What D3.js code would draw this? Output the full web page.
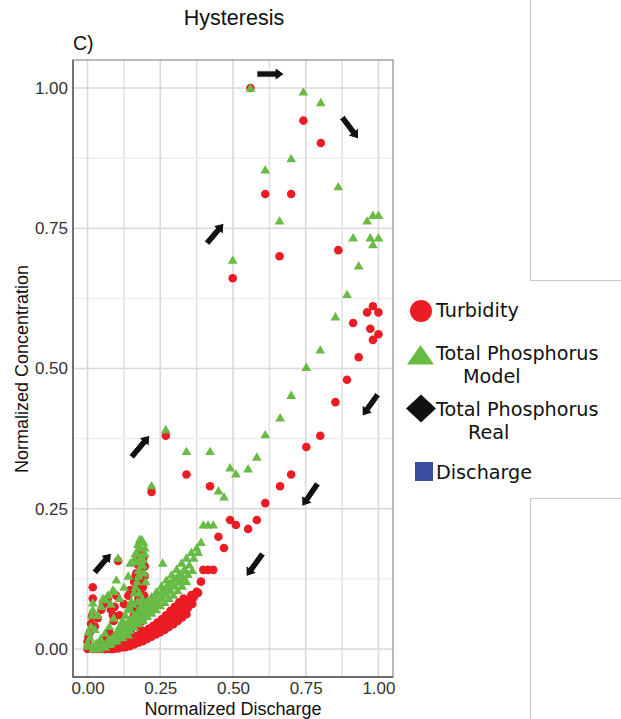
<!DOCTYPE html>
<html><head><meta charset="utf-8">
<script src="https://cdn.jsdelivr.net/npm/d3@7"></script>
<style>body{margin:0;background:#fff}svg{display:block}</style>
</head><body>
<script>
// ---------- data (normalized values) ----------
// Event A : large event
const dischargeA = [0.499,0.560,0.611,0.660,0.700,0.742,0.802,0.862,0.961,0.981,1.000,0.913,0.972,1.000,0.981,0.932,0.892,0.852,0.800,0.752,0.700,0.662,0.611,0.582,0.552,0.510,0.490,0.469,0.450];
const turbidityA = [0.661,1.000,0.811,0.700,0.811,0.942,0.902,0.711,0.600,0.611,0.600,0.581,0.571,0.561,0.551,0.520,0.480,0.440,0.380,0.360,0.311,0.290,0.260,0.230,0.214,0.221,0.230,0.180,0.200];
const tpModelA   = [0.693,1.000,0.854,0.763,0.874,0.993,0.974,0.824,0.763,0.773,0.773,0.733,0.733,0.733,0.721,0.683,0.632,0.592,0.533,0.502,0.452,0.412,0.382,0.342,0.321,0.312,0.323,0.271,0.282];
// Event B : medium event
const dischargeB = [0.220,0.269,0.340,0.421,0.398,0.414,0.432,0.390,0.375,0.357,0.340,0.323,0.306,0.289,0.271,0.258,0.254,0.237,0.220,0.205,0.190,0.175,0.160,0.145,0.130,0.115,0.100,0.085];
const turbidityB = [0.280,0.380,0.311,0.290,0.141,0.141,0.141,0.120,0.102,0.096,0.087,0.079,0.073,0.064,0.055,0.050,0.046,0.040,0.035,0.030,0.026,0.022,0.018,0.014,0.010,0.006,0.003,0.000];
const tpModelB   = [0.291,0.391,0.352,0.352,0.221,0.221,0.221,0.190,0.180,0.172,0.162,0.153,0.142,0.132,0.123,0.153,0.112,0.102,0.093,0.085,0.076,0.068,0.060,0.052,0.044,0.036,0.028,0.020];
// Event C : small event
const dischargeC = [0.110,0.125,0.140,0.147,0.160,0.168,0.173,0.179,0.186,0.192,0.197,0.197,0.192,0.186,0.180,0.175,0.170,0.165,0.160,0.150,0.140,0.130,0.120,0.110,0.100];
const turbidityC = [0.060,0.080,0.095,0.105,0.120,0.135,0.150,0.165,0.174,0.162,0.147,0.130,0.118,0.110,0.100,0.090,0.080,0.070,0.060,0.045,0.035,0.025,0.018,0.012,0.008];
const tpModelC   = [0.090,0.110,0.130,0.153,0.160,0.172,0.186,0.195,0.195,0.190,0.180,0.170,0.160,0.150,0.140,0.130,0.120,0.110,0.100,0.085,0.072,0.060,0.050,0.040,0.030];
// Event D : first flush near zero discharge
const dischargeD = [0.000,0.000,0.003,0.008,0.012,0.015,0.018,0.018,0.025,0.035,0.047,0.053,0.062,0.070,0.080,0.087,0.093,0.099,0.105,0.090,0.075,0.060,0.045,0.030,0.020];
const turbidityD = [0.000,0.013,0.022,0.030,0.045,0.058,0.090,0.110,0.040,0.055,0.070,0.078,0.082,0.090,0.070,0.060,0.075,0.095,0.157,0.050,0.030,0.020,0.010,0.005,0.002];
const tpModelD   = [0.005,0.010,0.030,0.020,0.040,0.060,0.070,0.082,0.035,0.060,0.076,0.090,0.088,0.096,0.080,0.105,0.102,0.123,0.162,0.055,0.040,0.028,0.018,0.010,0.006];
// Events E, F, H, I : recession limbs
const dischargeE = [0.360,0.345,0.330,0.315,0.300,0.285,0.270,0.255,0.240,0.225,0.210,0.195,0.180,0.165,0.150,0.135,0.120,0.105,0.090,0.075,0.060];
const turbidityE = [0.080,0.073,0.067,0.061,0.055,0.049,0.044,0.038,0.033,0.028,0.024,0.020,0.016,0.012,0.009,0.006,0.003,0.001,0.000,0.000,0.000];
const tpModelE   = [0.140,0.133,0.126,0.119,0.112,0.104,0.097,0.090,0.083,0.076,0.069,0.062,0.055,0.048,0.041,0.034,0.027,0.020,0.014,0.008,0.003];
const dischargeF = [0.330,0.315,0.300,0.285,0.270,0.255,0.240,0.225,0.210,0.195,0.180,0.165,0.150,0.135,0.120,0.105,0.090];
const turbidityF = [0.090,0.083,0.075,0.068,0.060,0.053,0.047,0.041,0.036,0.030,0.025,0.021,0.017,0.013,0.010,0.006,0.003];
const tpModelF   = [0.140,0.132,0.125,0.117,0.110,0.102,0.095,0.087,0.080,0.072,0.065,0.057,0.050,0.042,0.035,0.027,0.020];
const dischargeH = [0.380,0.365,0.350,0.335,0.320,0.305,0.290,0.275,0.260,0.245,0.230,0.215,0.200,0.185,0.170,0.155,0.140,0.125,0.110];
const turbidityH = [0.100,0.092,0.085,0.078,0.071,0.066,0.060,0.054,0.049,0.044,0.040,0.036,0.031,0.027,0.023,0.019,0.015,0.011,0.008];
const tpModelH   = [0.172,0.162,0.150,0.141,0.133,0.126,0.118,0.111,0.104,0.097,0.090,0.083,0.076,0.069,0.062,0.055,0.048,0.041,0.034];
const dischargeI = [0.340,0.325,0.310,0.295,0.280,0.265,0.250,0.235,0.220,0.205,0.190,0.175,0.160,0.145,0.130];
const turbidityI = [0.062,0.056,0.050,0.044,0.039,0.034,0.030,0.026,0.022,0.018,0.014,0.011,0.008,0.005,0.003];
const tpModelI   = [0.120,0.112,0.104,0.096,0.090,0.083,0.077,0.070,0.064,0.058,0.051,0.045,0.039,0.033,0.027];
// Event J : second small peak
const dischargeJ = [0.165,0.170,0.175,0.180,0.185,0.190,0.195,0.200,0.178,0.188,0.172,0.182,0.155,0.148];
const turbidityJ = [0.130,0.115,0.100,0.140,0.125,0.110,0.095,0.080,0.060,0.050,0.045,0.035,0.040,0.030];
const tpModelJ   = [0.170,0.155,0.140,0.180,0.165,0.150,0.135,0.120,0.100,0.090,0.085,0.075,0.080,0.070];
// Event G : base flow
const dischargeG = [0.020,0.030,0.040,0.050,0.060,0.070,0.080,0.090,0.100,0.110,0.120,0.130,0.140];
const turbidityG = [0.000,0.000,0.000,0.000,0.000,0.005,0.000,0.005,0.010,0.010,0.015,0.020,0.020];
const tpModelG   = [0.000,0.005,0.000,0.010,0.005,0.015,0.010,0.020,0.015,0.025,0.020,0.030,0.025];

const tickValues = [0, 0.25, 0.5, 0.75, 1];
const tickLabels = ["0.00", "0.25", "0.50", "0.75", "1.00"];
const legendLabels = [["Turbidity"], ["Total Phosphorus", "Model"], ["Total Phosphorus", "Real"], ["Discharge"]];
// hysteresis direction arrows [x1, y1, x2, y2] in data units
const arrows = [
  [0.024,0.136,0.082,0.171],
  [0.151,0.342,0.214,0.381],
  [0.410,0.723,0.469,0.759],
  [0.582,1.025,0.676,1.025],
  [0.875,0.948,0.932,0.909],
  [0.998,0.454,0.944,0.415],
  [0.791,0.295,0.737,0.254],
  [0.602,0.170,0.545,0.129]
];

// ---------- build ----------
const events = [
  [dischargeA, turbidityA, tpModelA],[dischargeB, turbidityB, tpModelB],[dischargeC, turbidityC, tpModelC],
  [dischargeD, turbidityD, tpModelD],[dischargeE, turbidityE, tpModelE],[dischargeF, turbidityF, tpModelF],
  [dischargeH, turbidityH, tpModelH],[dischargeI, turbidityI, tpModelI],[dischargeJ, turbidityJ, tpModelJ],
  [dischargeG, turbidityG, tpModelG]
];
const pts = [];
events.forEach(([q, t, p]) => q.forEach((v, i) => pts.push({q: v, turb: t[i], tp: p[i]})));

const W = 621, H = 719;
const svg = d3.select("body").append("svg").attr("width", W).attr("height", H);
const L = 73, R = 393, T = 60, B = 677;
const x = d3.scaleLinear().domain([-0.05, 1.05]).range([L, R]);
const y = d3.scaleLinear().domain([-0.05, 1.05]).range([B, T]);
const font = "'Liberation Sans', Arial, sans-serif";
const legFont = "'DejaVu Sans', sans-serif";

// right-side gray frame lines
const fr = svg.append("g").attr("stroke", "#c9c9c9").attr("stroke-width", 1.2).attr("fill", "none");
fr.append("path").attr("d", "M530.5,0V280.5H621");
fr.append("path").attr("d", "M530.5,719V498.5H621");

// grid
const minors = [0.125, 0.375, 0.625, 0.875];
const g = svg.append("g");
g.selectAll(".vmin").data(minors).join("line").attr("x1", d => x(d)).attr("x2", d => x(d)).attr("y1", T).attr("y2", B).attr("stroke", "#e0e0e0").attr("stroke-width", 1.5);
g.selectAll(".hmin").data(minors).join("line").attr("y1", d => y(d)).attr("y2", d => y(d)).attr("x1", L).attr("x2", R).attr("stroke", "#efefef").attr("stroke-width", 1.5);
g.selectAll(".vmaj").data(tickValues).join("line").attr("x1", d => x(d)).attr("x2", d => x(d)).attr("y1", T).attr("y2", B).attr("stroke", "#d9d9d9").attr("stroke-width", 1.6);
g.selectAll(".hmaj").data(tickValues).join("line").attr("y1", d => y(d)).attr("y2", d => y(d)).attr("x1", L).attr("x2", R).attr("stroke", "#d9d9d9").attr("stroke-width", 1.6);

// panel border
svg.append("rect").attr("x", L).attr("y", T).attr("width", R - L).attr("height", B - T).attr("fill", "none").attr("stroke", "#8a8a8a").attr("stroke-width", 1.2);
svg.append("path").attr("d", `M${L},${T}V${B}H${R}`).attr("fill", "none").attr("stroke", "#555").attr("stroke-width", 1.4);

// axes labels via d3 axes (no tick marks)
const xAxis = d3.axisBottom(x).tickValues(tickValues).tickFormat((d, i) => tickLabels[i]).tickSize(0).tickPadding(5);
const yAxis = d3.axisLeft(y).tickValues(tickValues).tickFormat((d, i) => tickLabels[i]).tickSize(0).tickPadding(5);
const gx = svg.append("g").attr("transform", `translate(0,${B})`).call(xAxis);
const gy = svg.append("g").attr("transform", `translate(${L},0)`).call(yAxis);
[gx, gy].forEach(a => { a.select(".domain").remove(); a.selectAll("text").attr("font-family", font).attr("font-size", 17).attr("fill", "#333"); });

// markers
const tri = (cx, cy) => `M${cx},${cy - 4.8}L${cx + 4.9},${cy + 3.6}L${cx - 4.9},${cy + 3.6}Z`;
svg.append("g").selectAll("circle").data(pts).join("circle")
  .attr("cx", d => x(d.q)).attr("cy", d => y(d.turb)).attr("r", 4.3).attr("fill", "#ec1c24");
svg.append("g").selectAll("path").data(pts).join("path")
  .attr("d", d => tri(x(d.q), y(d.tp))).attr("fill", "#68bb45");

// arrows
function arrowPath(a) {
  const x1 = x(a[0]), y1 = y(a[1]), x2 = x(a[2]), y2 = y(a[3]);
  const dx = x2 - x1, dy = y2 - y1, len = Math.hypot(dx, dy);
  const ux = dx / len, uy = dy / len, nx = -uy, ny = ux;
  const sw = 3.2, hw = 6.5, hl = 9;
  const bx = x2 - ux * hl, by = y2 - uy * hl;
  const p = [
    [x1 + nx * sw, y1 + ny * sw], [bx + nx * sw, by + ny * sw], [bx + nx * hw, by + ny * hw],
    [x2, y2], [bx - nx * hw, by - ny * hw], [bx - nx * sw, by - ny * sw], [x1 - nx * sw, y1 - ny * sw]
  ];
  return "M" + p.map(d => d.join(",")).join("L") + "Z";
}
svg.append("g").selectAll("path").data(arrows).join("path")
  .attr("d", arrowPath).attr("fill", "#111").attr("stroke", "#fff").attr("stroke-width", 1).attr("stroke-linejoin", "round");

// titles
svg.append("text").attr("x", 234).attr("y", 25).attr("text-anchor", "middle").attr("font-family", font).attr("font-size", 21.5).attr("fill", "#111").text("Hysteresis");
svg.append("text").attr("x", 73).attr("y", 50).attr("font-family", font).attr("font-size", 19.5).attr("fill", "#111").text("C)");
svg.append("text").attr("x", 233).attr("y", 715).attr("text-anchor", "middle").attr("font-family", font).attr("font-size", 18).attr("fill", "#111").text("Normalized Discharge");
svg.append("text").attr("transform", "translate(28,369) rotate(-90)").attr("text-anchor", "middle").attr("font-family", font).attr("font-size", 18).attr("fill", "#111").text("Normalized Concentration");

// legend
const lg = svg.append("g");
lg.append("circle").attr("cx", 421).attr("cy", 311).attr("r", 11).attr("fill", "#ec1c24");
lg.append("path").attr("d", "M420.5,345L434,364.5L407,364.5Z").attr("fill", "#68bb45");
lg.append("path").attr("d", "M421,394.5L436,408.5L421,422.5L406,408.5Z").attr("fill", "#111");
lg.append("rect").attr("x", 415).attr("y", 462).attr("width", 18).attr("height", 19).attr("fill", "#3b4b9e");
const lgPos = [[436, 317, 0, 0], [436, 359.5, 463, 382.5], [436, 416, 468, 439], [436, 478.5, 0, 0]];
legendLabels.forEach((lab, i) => {
  const [tx, ty, tx2, ty2] = lgPos[i];
  lg.append("text").attr("x", tx).attr("y", ty).attr("font-family", legFont).attr("font-size", 19.2).attr("fill", "#111").text(lab[0]);
  if (lab[1]) lg.append("text").attr("x", tx2).attr("y", ty2).attr("font-family", legFont).attr("font-size", 19.2).attr("fill", "#111").text(lab[1]);
});
</script>
</body></html>
